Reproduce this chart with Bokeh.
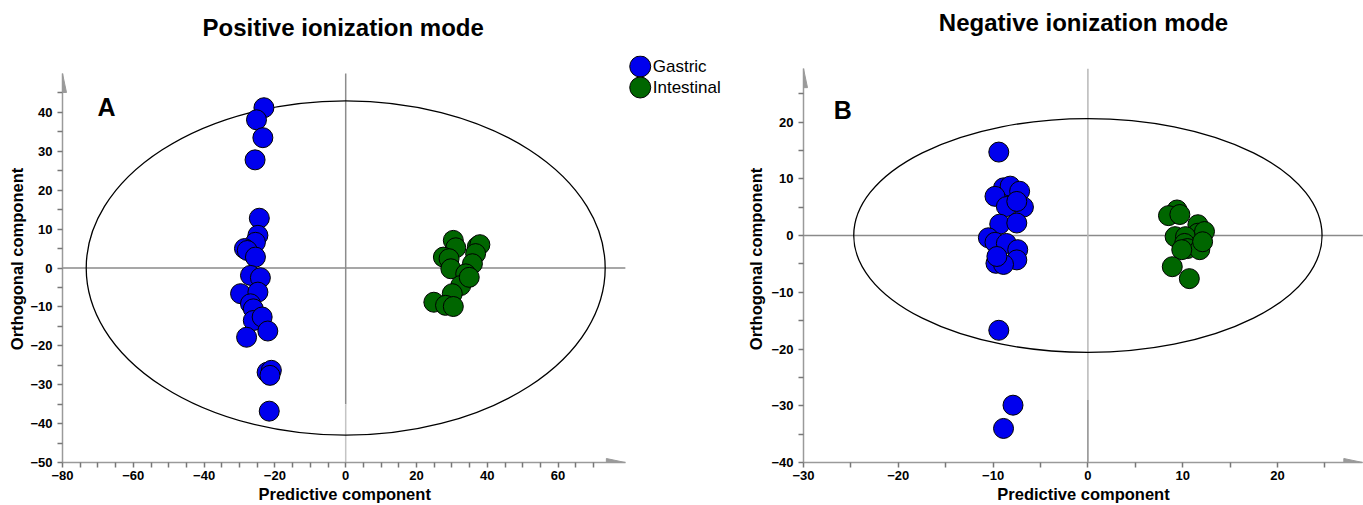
from bokeh.plotting import figure
from bokeh.layouts import row
from bokeh.models import Range1d, FixedTicker, Label, PolyAnnotation, Title
from bokeh.embed import file_html
from bokeh.resources import INLINE
from bokeh.core.properties import value

# ---------------- data ----------------
groups = ["Gastric", "Intestinal"]
group_colors = ["#0000ee", "#006600"]

# Panel A: positive ionization mode
pos_gastric_x = [-23.1, -25.2, -23.4, -25.6, -24.4, -24.8, -25.5, -28.6, -27.8, -25.5, -26.9, -24.1,
                 -29.7, -24.8, -26.9, -26.1, -26.1, -23.6, -28.0, -22.0, -22.2, -21.0, -21.4, -21.6]
pos_gastric_y = [41.2, 38.1, 33.5, 27.8, 12.8, 8.4, 6.6, 5.0, 4.5, 2.8, -1.9, -2.5,
                 -6.6, -6.2, -9.2, -10.5, -13.5, -12.6, -17.8, -16.2, -26.8, -26.3, -27.6, -36.8]
pos_intestinal_x = [30.4, 31.1, 37.2, 37.9, 27.6, 29.2, 29.7, 36.7, 35.8, 33.9, 32.5, 30.1,
                    24.9, 28.2, 30.4, 34.9]
pos_intestinal_y = [7.1, 5.2, 5.5, 6.0, 2.8, 2.4, -0.2, 3.7, 1.1, -1.5, -4.5, -6.6,
                    -8.8, -9.6, -9.9, -2.4]

# Panel B: negative ionization mode
neg_gastric_x = [-9.4, -8.9, -8.2, -7.2, -9.8, -6.8, -8.6, -7.5, -9.3, -7.5, -10.5, -9.8,
                 -8.6, -7.4, -7.5, -9.7, -8.9, -9.6, -9.4, -7.9, -8.9]
neg_gastric_y = [14.7, 8.4, 8.7, 7.8, 6.9, 5.0, 5.1, 6.0, 2.0, 2.2, -0.4, -1.2,
                 -1.4, -2.5, -4.3, -4.9, -5.1, -3.7, -16.7, -29.9, -34.0]
neg_intestinal_x = [9.4, 8.5, 9.7, 9.2, 11.6, 11.6, 10.3, 10.2, 10.5, 11.8, 9.9, 8.9, 10.7, 12.3, 12.1]
neg_intestinal_y = [4.5, 3.5, 3.7, -0.2, 1.9, 0.4, -0.2, -1.4, -2.3, -2.5, -2.5, -5.5, -7.6, 0.7, -1.1]

# Hotelling T2 ellipse semi-axes (x, y)
pos_ellipse = (73.3, 43.0)
neg_ellipse = (24.7, 20.6)

pos_x_ticks = [-80, -60, -40, -20, 0, 20, 40, 60]
pos_y_ticks = [-50, -40, -30, -20, -10, 0, 10, 20, 30, 40]
neg_x_ticks = [-30, -20, -10, 0, 10, 20]
neg_y_ticks = [-40, -30, -20, -10, 0, 10, 20]

# axis extents (start, arrow tip)
pos_x_axis = (-80, 79.0)
pos_y_axis = (-50, 50.0)
neg_x_axis = (-30, 29.0)
neg_y_axis = (-40, 29.4)

X_LABEL = "Predictive component"
Y_LABEL = "Orthogonal component"

FONT = "Liberation Sans"
AXIS_GRAY = "#9a9a9a"
H = 505
FRAME_TOP = 55
FRAME_BOTTOM = 462


def minor(ticks, lo, hi, step=5):
    out = []
    v = lo
    while v <= hi:
        if v not in ticks:
            out.append(v)
        v += step
    return out


def make_panel(title, title_gap, title_offset, xlabel_offset, letter, letter_pos, xs, ys,
               xaxis_ext, yaxis_ext, ppu_x, ppu_y, xt, yt, xminor, yminor, ell, width, bl,
               vsplit, vcols, ylab_standoff):
    x0 = xaxis_ext[0]
    x1 = x0 + (width - bl) / ppu_x
    y0 = yaxis_ext[0]
    y1 = y0 + (FRAME_BOTTOM - FRAME_TOP) / ppu_y
    p = figure(width=width, height=H, x_range=Range1d(x0, x1), y_range=Range1d(y0, y1),
               output_backend="svg", toolbar_location=None,
               min_border_left=bl, min_border_right=0, min_border_top=FRAME_TOP,
               min_border_bottom=H - FRAME_BOTTOM)
    p.outline_line_color = None
    p.xgrid.visible = False
    p.ygrid.visible = False
    p.background_fill_color = "white"
    p.border_fill_color = "white"

    # title (a spacer title keeps it at the right height above the frame)
    p.add_layout(Title(text=" ", text_font_size="2px", standoff=title_gap), "above")
    p.title.text = title
    if title_offset is None:
        p.title.align = "center"
    else:
        p.title.align = "left"
        p.title.offset = title_offset
    p.title.text_font = FONT
    p.title.text_font_size = "24px"
    p.title.text_font_style = "bold"
    p.title.text_color = "black"
    p.title.standoff = 0

    p.xaxis.ticker = FixedTicker(ticks=xt, minor_ticks=xminor)
    p.yaxis.ticker = FixedTicker(ticks=yt, minor_ticks=yminor)
    p.xaxis.bounds = xaxis_ext
    p.yaxis.bounds = yaxis_ext
    p.yaxis.axis_label = Y_LABEL
    for ax in (p.xaxis, p.yaxis):
        ax.axis_line_color = AXIS_GRAY
        ax.axis_line_width = 1.5
        ax.major_tick_line_color = "#777777"
        ax.minor_tick_line_color = "#777777"
        ax.major_tick_line_width = 1.5
        ax.minor_tick_line_width = 1.5
        ax.major_tick_in = 0
        ax.major_tick_out = 5
        ax.minor_tick_in = 0
        ax.minor_tick_out = 5
        ax.major_label_text_font = FONT
        ax.major_label_text_font_style = "bold"
        ax.major_label_text_font_size = "13px"
        ax.major_label_text_color = "black"
        ax.axis_label_text_font = FONT
        ax.axis_label_text_font_style = "bold"
        ax.axis_label_text_font_size = "16.5px"
        ax.axis_label_text_color = "black"
    p.xaxis.major_label_standoff = 3
    p.xaxis.axis_label_standoff = 2
    p.yaxis.major_label_standoff = 5
    p.yaxis.axis_label_standoff = ylab_standoff
    if xlabel_offset is None:
        p.xaxis.axis_label = X_LABEL
    else:
        p.add_layout(Title(text=X_LABEL, align="left", offset=xlabel_offset, standoff=0,
                           text_font=FONT, text_font_size="16.5px", text_font_style="bold",
                           text_color="black"), "below")

    # zero reference lines
    p.segment(x0=[xaxis_ext[0]], y0=[0], x1=[xaxis_ext[1]], y1=[0], line_color="#8a8a8a", line_width=1.5)
    p.segment(x0=[0, 0], y0=[yaxis_ext[1], vsplit], x1=[0, 0], y1=[vsplit, yaxis_ext[0]],
              line_color=vcols, line_width=1.5)

    # ellipse
    p.ellipse(x=[0], y=[0], width=[2 * ell[0]], height=[2 * ell[1]],
              fill_color=None, line_color="black", line_width=1.3)

    # points
    for (gx, gy), col in zip(zip(xs, ys), group_colors):
        p.scatter(gx, gy, size=20, fill_color=col, line_color="black", line_width=1)

    # axis arrow heads
    dx = 1.0 / ppu_x
    dy = 1.0 / ppu_y
    xa, ya = xaxis_ext[0], yaxis_ext[0]
    p.add_layout(PolyAnnotation(xs=[xa - 4 * dx, xa + 4 * dx, xa],
                                ys=[yaxis_ext[1] - 19 * dy, yaxis_ext[1] - 19 * dy, yaxis_ext[1]],
                                fill_color=AXIS_GRAY, fill_alpha=1, line_color=AXIS_GRAY, line_alpha=1))
    p.add_layout(PolyAnnotation(xs=[xaxis_ext[1] - 19 * dx, xaxis_ext[1] - 19 * dx, xaxis_ext[1]],
                                ys=[ya - 4 * dy, ya + 4 * dy, ya],
                                fill_color=AXIS_GRAY, fill_alpha=1, line_color=AXIS_GRAY, line_alpha=1))

    p.add_layout(Label(x=letter_pos[0], y=letter_pos[1], text=letter, text_font=FONT,
                       text_font_size="25px", text_font_style="bold", text_color="black",
                       text_baseline="alphabetic"))
    return p


PPU_AX, PPU_AY = 3.54, 3.89
PPU_BX, PPU_BY = 9.48, 5.675

pA = make_panel("Positive ionization mode", 11, 140, 196, "A", (-70.1, 41.3),
                [pos_gastric_x, pos_intestinal_x], [pos_gastric_y, pos_intestinal_y],
                pos_x_axis, pos_y_axis, PPU_AX, PPU_AY, pos_x_ticks, pos_y_ticks,
                minor(pos_x_ticks, -75, 70), minor(pos_y_ticks, -45, 45),
                pos_ellipse, 738, 62, -35, ["#8c8c8c", "#c4c4c4"], 1)

pB = make_panel("Negative ionization mode", 16, None, None, "B", (-26.8, 22.2),
                [neg_gastric_x, neg_intestinal_x], [neg_gastric_y, neg_intestinal_y],
                neg_x_axis, neg_y_axis, PPU_BX, PPU_BY, neg_x_ticks, neg_y_ticks,
                minor(neg_x_ticks, -25, 25), minor(neg_y_ticks, -35, 25),
                neg_ellipse, 625, 65, -29, ["#b8b8b8", "#8c8c8c"], 3)

# legend (drawn in panel A, to the right of its x-axis arrow)
leg_x = 83.2
leg_y_top = 51.8
leg_step = 21 / PPU_AY
leg_y = [leg_y_top - i * leg_step for i in range(len(groups))]
pA.scatter([leg_x] * len(groups), leg_y, size=21, fill_color=group_colors,
           line_color="black", line_width=1)
pA.text([leg_x + 12.5 / PPU_AX] * len(groups), leg_y, text=groups, text_font=value(FONT),
        text_font_size="17px", text_baseline="middle", text_color="black")

layout = row(pA, pB)
open("out.html", "w").write(file_html(layout, INLINE))
